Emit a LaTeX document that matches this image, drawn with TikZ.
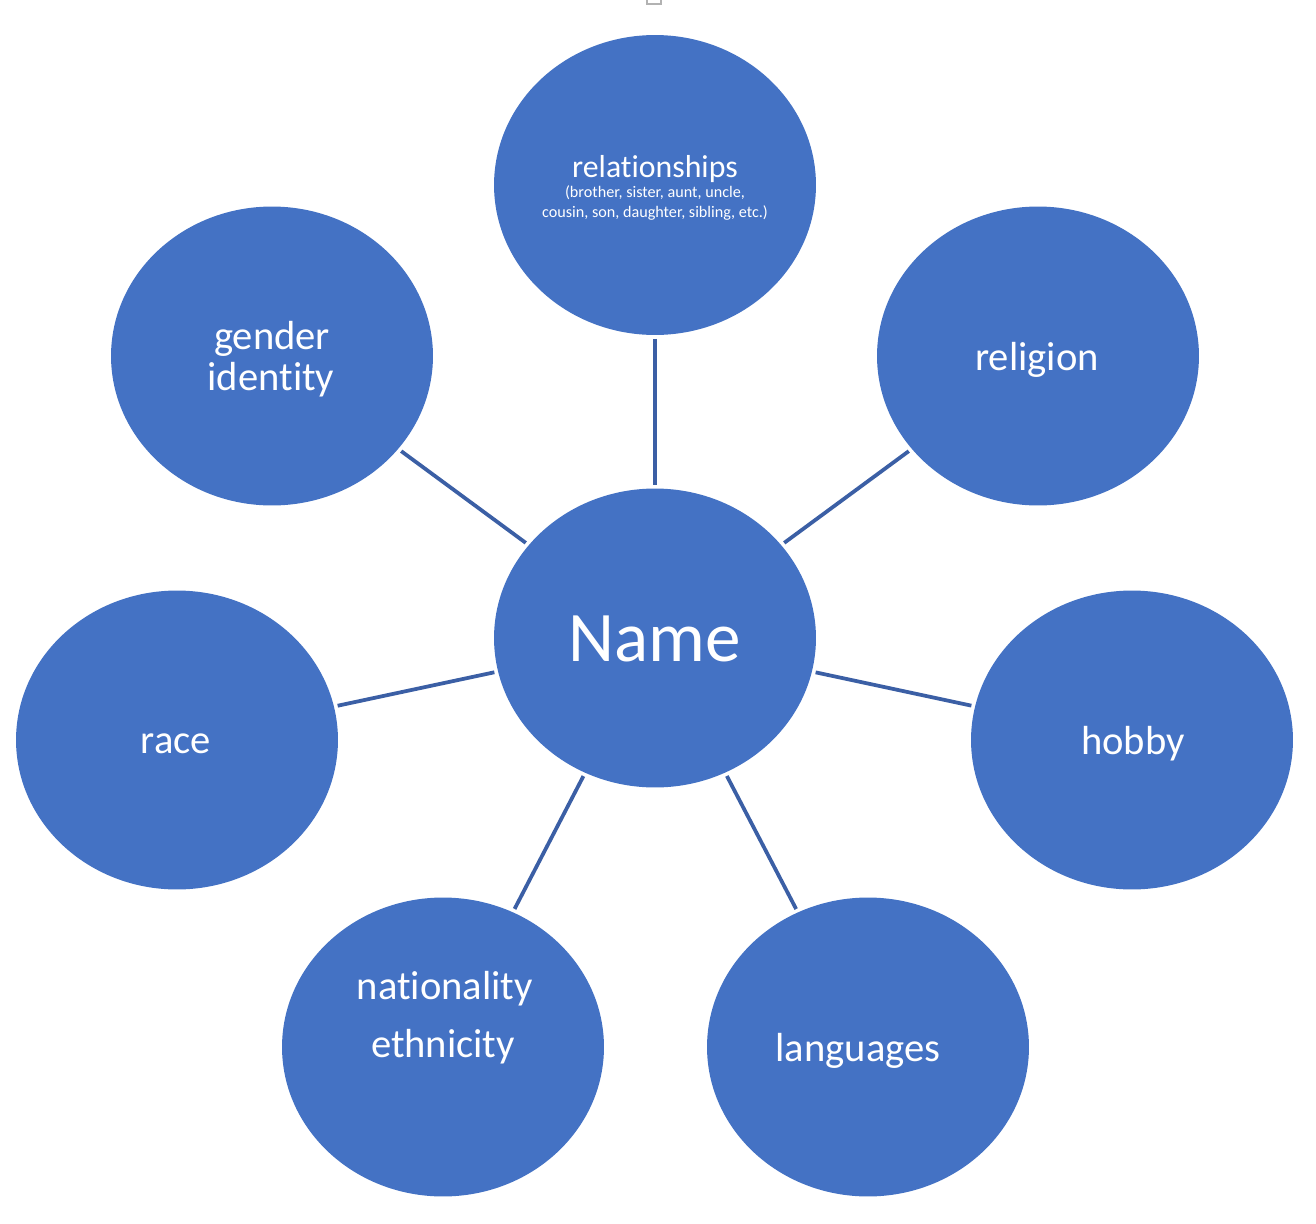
\documentclass[tikz,border=0pt]{standalone}
\usepackage{fontspec}
\setmainfont{Carlito}[Ligatures=NoCommon]
\usetikzlibrary{shapes.geometric}
\definecolor{bubble}{HTML}{4472C4}
\definecolor{linkblue}{RGB}{59,95,165}
\tikzset{
  bubble/.style={ellipse, fill=bubble, draw=none, inner sep=0pt,
    minimum width=322*0.2mm, minimum height=299*0.2mm},
  lbl/.style={text=white, anchor=base, inner sep=0pt, font=\fontsize{23.1}{26}\selectfont},
  link/.style={draw=linkblue, line width=0.75mm, shorten >=0.7mm, shorten <=0.7mm}
}
\begin{document}
\begin{tikzpicture}[x=0.02cm, y=-0.02cm]
\useasboundingbox (0,0) rectangle (1316,1224);
\fill[white] (0,0) rectangle (1316,1224);
% tiny artefact box at top
\draw[gray!60, fill=white, line width=0.25mm] (647,-4) rectangle (661,4);
% bubbles
\node[bubble] (name) at (655,638) {};
\node[bubble, minimum height=300*0.2mm] (rel) at (655,185) {};
\node[bubble] (gen) at (272,356) {};
\node[bubble] (relig) at (1038,356) {};
\node[bubble] (race) at (177,740) {};
\node[bubble] (hobby) at (1132,740) {};
\node[bubble] (nat) at (443,1047) {};
\node[bubble] (lang) at (868,1047) {};
% connectors
\draw[link] (rel) -- (name);
\draw[link] (gen) -- (name);
\draw[link] (relig) -- (name);
\draw[link] (race) -- (name);
\draw[link] (hobby) -- (name);
\draw[link] (nat) -- (name);
\draw[link] (lang) -- (name);
% labels
\node[lbl, font=\fontsize{40.5}{44}\selectfont] (tname) at (655,661) {Name};
\node[lbl, font=\fontsize{18.1}{20}\selectfont] (trel) at (655,177) {relationships};
\node[lbl, font=\fontsize{9.2}{11}\selectfont] (trel2) at (655,197) {(brother, sister, aunt, uncle,};
\node[lbl, font=\fontsize{9.2}{11}\selectfont] (trel3) at (655,217) {cousin,\ son, daughter, sibling, etc.)};
\node[lbl] (tgen1) at (272,349) {gender};
\node[lbl] (tgen2) at (271,390) {identity};
\node[lbl] (trelig) at (1037,370) {religion};
\node[lbl] (trace) at (176,753) {race};
\node[lbl] (thobby) at (1133,754) {hobby};
\node[lbl] (tnat1) at (445,999) {nationality};
\node[lbl] (tnat2) at (443,1057) {ethnicity};
\node[lbl] (tlang) at (858,1061) {languages};
\end{tikzpicture}
\end{document}
